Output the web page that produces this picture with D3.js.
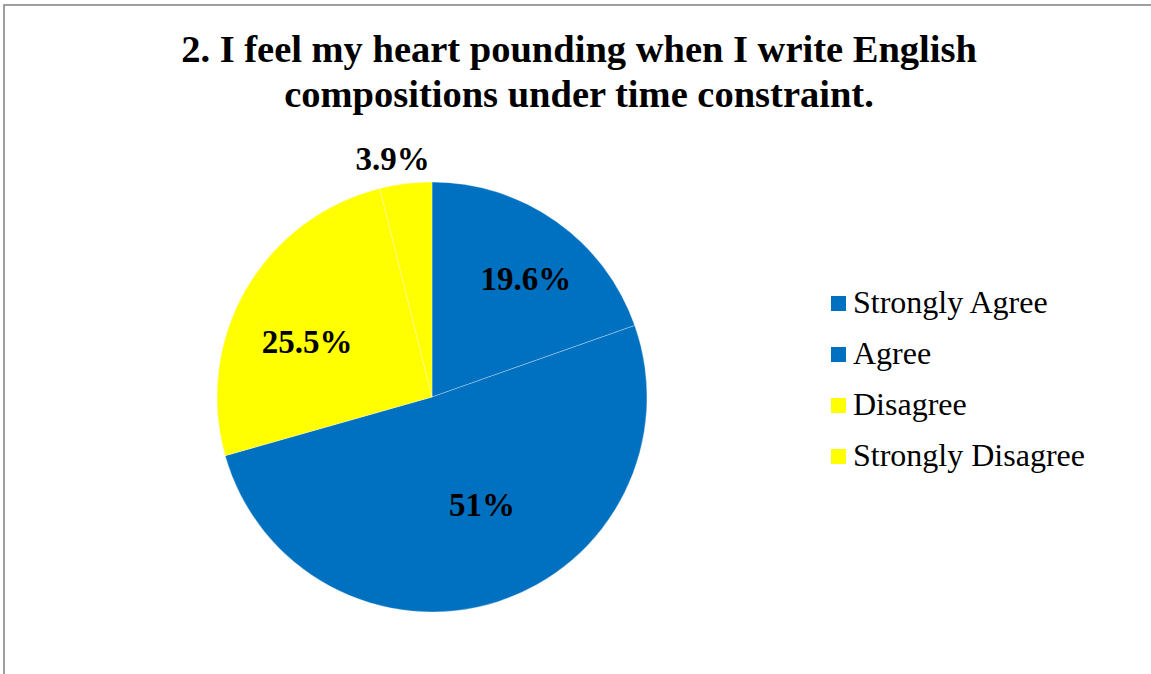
<!DOCTYPE html>
<html>
<head>
<meta charset="utf-8">
<script src="https://cdn.jsdelivr.net/npm/d3@7"></script>
<style>
  body { margin: 0; background: #fff; }
  text { font-family: "Liberation Serif", "Times New Roman", serif; }
</style>
</head>
<body>
<svg class="chart" width="1151" height="674"></svg>
<script>
// values
const categories = ["Strongly Agree", "Agree", "Disagree", "Strongly Disagree"];
const percents = [19.6, 51, 25.5, 3.9];
const labels = ["19.6%", "51%", "25.5%", "3.9%"];
const colors = ["#0070C0", "#0070C0", "#FFFF00", "#FFFF00"];
const titleLines = ["2. I feel my heart pounding when I write English",
                    "compositions under time constraint."];

const width = 1151, height = 674;
const center = { x: 432, y: 397 };
const radius = 215;

const svg = d3.select(".chart");

// outer frame (only top and left edges visible in the picture)
svg.append("rect")
    .attr("x", 4)
    .attr("y", 5)
    .attr("width", width + 10)
    .attr("height", height + 10)
    .attr("fill", "#fff")
    .attr("stroke", "#878787")
    .attr("stroke-width", 1.6);

svg.append("text")
    .attr("text-anchor", "middle")
    .attr("font-weight", "bold")
    .attr("font-size", 38.5)
    .selectAll("tspan").data(titleLines)
    .enter()
    .append("tspan")
    .attr("x", 579)
    .attr("y", function(d, i) { return 62 + i * 45; })
    .text(function(d) { return d; });

const pie = d3.pie().sort(null).value(function(d) { return d; });
const arcs = pie(percents);

const arc = d3.arc().innerRadius(0).outerRadius(radius);

const g = svg.append("g")
    .attr("transform", "translate(" + center.x + "," + center.y + ")");

g.selectAll("path").data(arcs)
    .enter()
    .append("path")
    .attr("d", arc)
    .attr("fill", function(d, i) { return colors[i]; })
    .attr("stroke", "#fff")
    .attr("stroke-width", 0.5)
    .attr("stroke-opacity", 0.6);

// label placement: inner labels around 2/3 radius, the small slice outside,
// then small nudges to sit where the original best-fit put them
const labelArcIn = d3.arc().innerRadius(radius * 0.66).outerRadius(radius * 0.66);
const labelArcOut = d3.arc().innerRadius(240).outerRadius(240);
const nudges = [[12, -3], [7, -28], [-2, 16], [-10, 0]];

g.selectAll("text.label").data(arcs)
    .enter()
    .append("text")
    .attr("class", "label")
    .attr("text-anchor", "middle")
    .attr("dy", "0.35em")
    .attr("font-weight", "bold")
    .attr("font-size", 33)
    .attr("x", function(d, i) {
        const c = (d.data < 5 ? labelArcOut : labelArcIn).centroid(d);
        return c[0] + nudges[i][0];
    })
    .attr("y", function(d, i) {
        const c = (d.data < 5 ? labelArcOut : labelArcIn).centroid(d);
        return c[1] + nudges[i][1];
    })
    .text(function(d, i) { return labels[i]; });

// legend
const legend = svg.append("g")
    .attr("transform", "translate(831,296)");

const rows = legend.selectAll("g").data(categories)
    .enter()
    .append("g")
    .attr("transform", function(d, i) { return "translate(0," + (i * 51) + ")"; });

rows.append("rect")
    .attr("width", 15)
    .attr("height", 15)
    .attr("fill", function(d, i) { return colors[i]; });

rows.append("text")
    .attr("x", 22)
    .attr("y", 17)
    .attr("font-size", 32)
    .text(function(d) { return d; });
</script>
</body>
</html>
